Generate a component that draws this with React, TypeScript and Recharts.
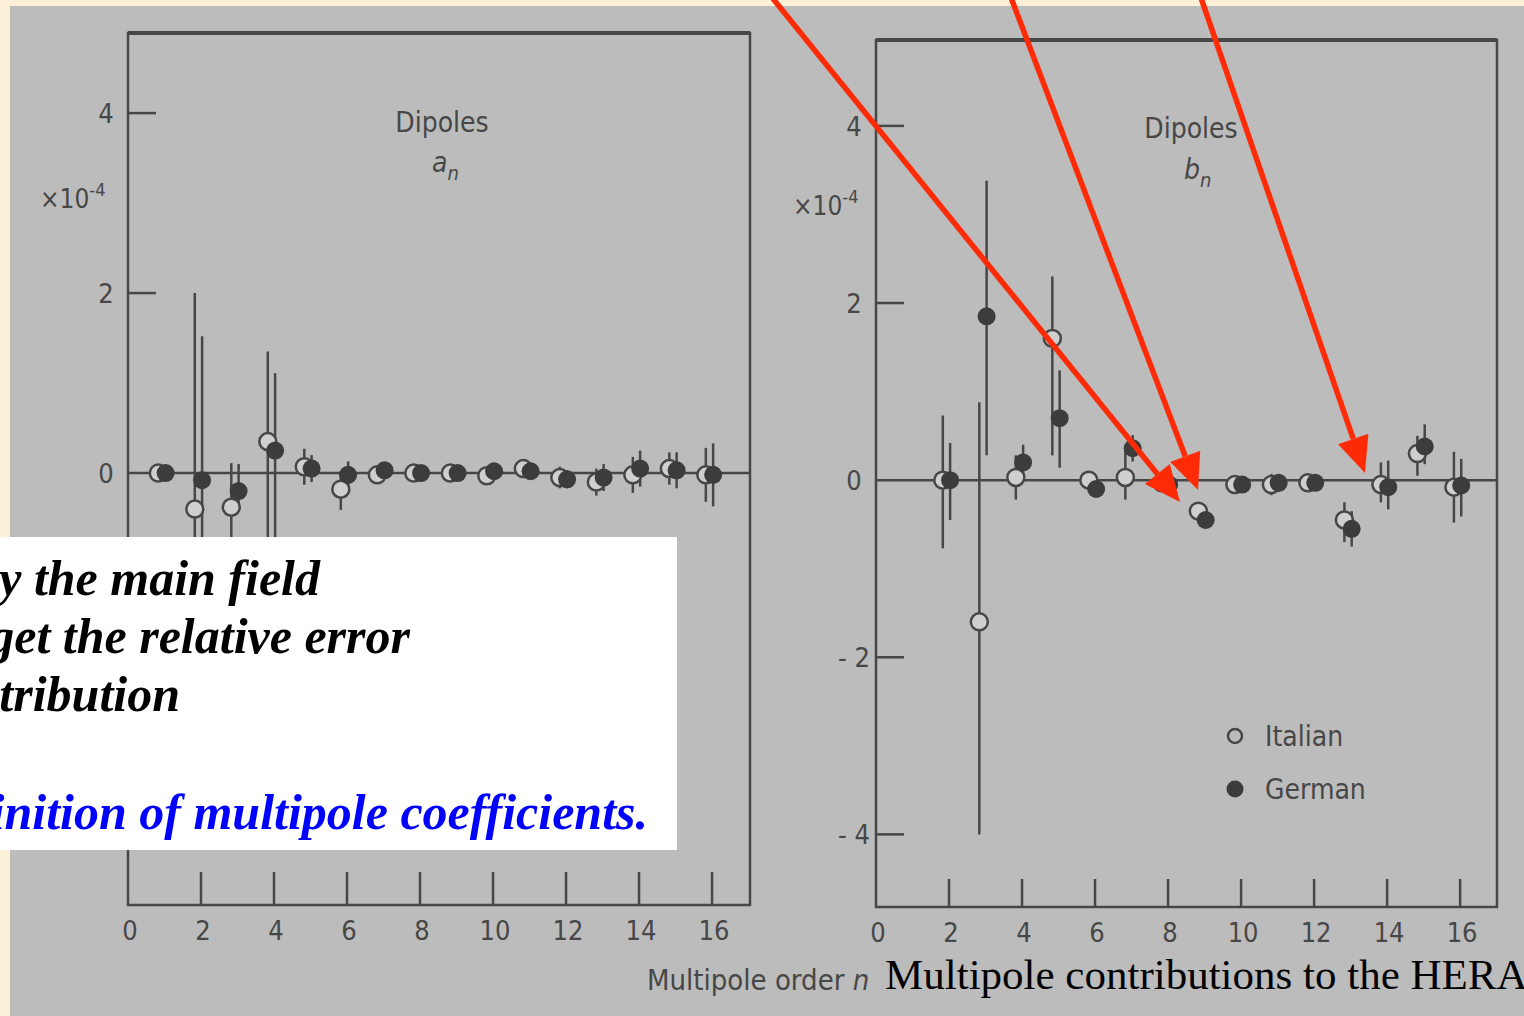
import {
  ScatterChart,
  Scatter,
  XAxis,
  YAxis,
  ErrorBar,
  ReferenceLine,
  ReferenceArea,
  Legend,
} from "recharts";

// multipole orders
const aOrders = [1, 2, 3, 4, 5, 6, 7, 8, 9, 10, 11, 12, 13, 14, 15, 16];
const bOrders = [2, 3, 4, 5, 6, 7, 8, 9, 10, 11, 12, 13, 14, 15, 16];

// skew dipole coefficients a_n (x 10^-4)
const aItalian = [0, -0.4, -0.38, 0.35, 0.07, -0.18, -0.02, 0, 0, -0.03, 0.05, -0.05, -0.1, -0.02, 0.05, -0.02];
const aItalianErr = [
  [0, 0], [1.0, 2.4], [0.8, 0.49], [1.85, 1.0], [0.2, 0.2], [0.23, 0.2], [0.1, 0.1], [0.1, 0.1],
  [0.07, 0.07], [0.1, 0.1], [0.08, 0.08], [0.12, 0.12], [0.15, 0.15], [0.2, 0.2], [0.18, 0.18], [0.3, 0.3],
];
const aGerman = [0, -0.08, -0.2, 0.25, 0.05, -0.02, 0.03, 0, 0, 0.02, 0.02, -0.07, -0.05, 0.05, 0.03, -0.02];
const aGermanErr = [
  [0, 0], [1.0, 1.6], [0.2, 0.3], [1.8, 0.86], [0.15, 0.15], [0.15, 0.15], [0.08, 0.08], [0.08, 0.08],
  [0.05, 0.05], [0.08, 0.08], [0.05, 0.05], [0.1, 0.1], [0.15, 0.15], [0.2, 0.2], [0.2, 0.2], [0.35, 0.35],
];

// normal dipole coefficients b_n (x 10^-4)
const bItalian = [0, -1.6, 0.03, 1.6, 0, 0.03, -0.03, -0.35, -0.05, -0.05, -0.03, -0.45, -0.05, 0.3, -0.08];
const bItalianErr = [
  [0.77, 0.73], [2.4, 2.48], [0.25, 0.25], [1.32, 0.7], [0.08, 0.08], [0.25, 0.3], [0.1, 0.1], [0.08, 0.08],
  [0.1, 0.1], [0.12, 0.12], [0.05, 0.05], [0.25, 0.2], [0.2, 0.25], [0.25, 0.2], [0.4, 0.4],
];
const bGerman = [0, 1.85, 0.2, 0.7, -0.1, 0.36, -0.05, -0.45, -0.05, -0.03, -0.03, -0.55, -0.08, 0.38, -0.06];
const bGermanErr = [
  [0.45, 0.42], [1.57, 1.53], [0.15, 0.2], [0.56, 0.54], [0.05, 0.05], [0.15, 0.15], [0.05, 0.05], [0.05, 0.05],
  [0.08, 0.08], [0.1, 0.1], [0.05, 0.05], [0.2, 0.2], [0.25, 0.3], [0.2, 0.25], [0.35, 0.3],
];

const xTicks = [0, 2, 4, 6, 8, 10, 12, 14, 16];
// the left panel's lower ticks are hidden under the slide's text box
const aYTicks = [0, 2, 4];
const bYTicks = [-4, -2, 0, 2, 4];
const seriesNames = ["Italian", "German"];

const INK = "#474747";
const PAPER = "#bcbcbc";
const FONT = "'DejaVu Sans Condensed', 'Liberation Sans Narrow', sans-serif";
const SERIF = "'Liberation Serif', 'Times New Roman', serif";
const RED = "#ff2a06";

const build = (orders: number[], vals: number[], errs: number[][], shift: number) =>
  orders.map((n, i) => ({ x: n + shift, y: vals[i], err: errs[i] }));

const OpenDot = (p: any) => (
  <circle cx={p.cx} cy={p.cy} r={8.5} fill="#cfcfcf" stroke={INK} strokeWidth={2.5} />
);
const FullDot = (p: any) => <circle cx={p.cx} cy={p.cy} r={9} fill="#3c3c3c" />;

const XTick = (len: number, dy: number) => (p: any) => (
  <g>
    {p.payload.value > 0 && (
      <line x1={p.x} y1={p.y} x2={p.x} y2={p.y - len} stroke={INK} strokeWidth={2.5} />
    )}
    <text x={p.x + 2} y={p.y + dy} textAnchor="middle" fill={INK} fontSize={27} fontFamily={FONT}>
      {p.payload.value}
    </text>
  </g>
);

const YTick = (p: any) => (
  <g>
    {p.payload.value !== 0 && (
      <line x1={p.x} y1={p.y} x2={p.x + 28} y2={p.y} stroke={INK} strokeWidth={2.5} />
    )}
    <text x={p.x - 22} y={p.y + 10} textAnchor="middle" fill={INK} fontSize={27} fontFamily={FONT}>
      {p.payload.value < 0 ? "- " + Math.abs(p.payload.value) : p.payload.value}
    </text>
  </g>
);

const LegendBox = (props: any) => {
  const items = [...(props.payload || [])].sort(
    (a: any, b: any) => seriesNames.indexOf(a.value) - seriesNames.indexOf(b.value)
  );
  return (
    <svg width={200} height={100}>
      {items.map((e: any, i: number) => (
        <g key={e.value} transform={`translate(0, ${i * 53})`}>
          {e.value === "Italian" ? (
            <circle cx={16} cy={24} r={7} fill="none" stroke={INK} strokeWidth={2.5} />
          ) : (
            <circle cx={16} cy={24} r={8.5} fill="#3c3c3c" />
          )}
          <text x={46} y={34} fill={INK} fontSize={28} fontFamily={FONT}>
            {e.value}
          </text>
        </g>
      ))}
    </svg>
  );
};

type PanelProps = {
  left: number;
  width: number;
  margin: { top: number; right: number; bottom: number; left: number };
  xMax: number;
  yMin: number;
  yMax: number;
  yTicks: number[];
  italian: any[];
  german: any[];
  tickLen: number;
  tickDy: number;
  legend?: boolean;
};

const Panel = (p: PanelProps) => (
  <div style={{ position: "absolute", left: p.left, top: 0 }}>
    <ScatterChart width={p.width} height={1016} margin={p.margin}>
      <XAxis
        type="number"
        dataKey="x"
        domain={[0, p.xMax]}
        ticks={xTicks}
        interval={0}
        allowDataOverflow
        height={50}
        tickSize={0}
        tickMargin={0}
        axisLine={false}
        tick={XTick(p.tickLen, p.tickDy)}
      />
      <YAxis
        type="number"
        dataKey="y"
        domain={[p.yMin, p.yMax]}
        ticks={p.yTicks}
        interval={0}
        allowDataOverflow
        width={50}
        tickSize={0}
        tickMargin={0}
        axisLine={false}
        tick={YTick}
      />
      <ReferenceArea
        x1={0}
        x2={p.xMax}
        y1={p.yMin}
        y2={p.yMax}
        fill="none"
        stroke={INK}
        strokeWidth={2.5}
      />
      <ReferenceLine y={p.yMax} stroke={INK} strokeWidth={4} />
      <ReferenceLine y={0} stroke={INK} strokeWidth={2.5} />
      <Scatter name="Italian" data={p.italian} shape={OpenDot} isAnimationActive={false}>
        <ErrorBar dataKey="err" direction="y" width={0} stroke={INK} strokeWidth={2.5} isAnimationActive={false} />
      </Scatter>
      <Scatter name="German" data={p.german} shape={FullDot} isAnimationActive={false}>
        <ErrorBar dataKey="err" direction="y" width={0} stroke={INK} strokeWidth={2.5} isAnimationActive={false} />
      </Scatter>
      {p.legend && (
        <Legend
          layout="horizontal"
          verticalAlign="middle"
          content={LegendBox}
          wrapperStyle={{ left: 1219 - p.left, top: 712, width: 200 }}
        />
      )}
    </ScatterChart>
  </div>
);

const Arrow = ({ x1, y1, x2, y2 }: { x1: number; y1: number; x2: number; y2: number }) => {
  const a = Math.atan2(y2 - y1, x2 - x1);
  const L = 36;
  const W = 16;
  const bx = x2 - L * Math.cos(a);
  const by = y2 - L * Math.sin(a);
  const px = -Math.sin(a) * W;
  const py = Math.cos(a) * W;
  return (
    <g>
      <line x1={x1} y1={y1} x2={bx} y2={by} stroke={RED} strokeWidth={5.5} />
      <polygon points={`${x2},${y2} ${bx + px},${by + py} ${bx - px},${by - py}`} fill={RED} />
    </g>
  );
};

export default function App() {
  return (
    <div
      style={{
        position: "absolute",
        left: 0,
        top: 0,
        width: 1524,
        height: 1016,
        overflow: "hidden",
        background: "#fcf0d8",
      }}
    >
      <div style={{ position: "absolute", left: 10, top: 6, right: 0, bottom: 0, background: PAPER }} />
      <Panel
        left={0}
        width={800}
        margin={{ top: 33, right: 50, bottom: 61, left: 78 }}
        xMax={17.04}
        yMin={-4.8}
        yMax={4.89}
        yTicks={aYTicks}
        italian={build(aOrders, aItalian, aItalianErr, -0.17)}
        german={build(aOrders, aGerman, aGermanErr, 0.03)}
        tickLen={33}
        tickDy={35}
      />
      <Panel
        left={760}
        width={764}
        margin={{ top: 40, right: 27, bottom: 59, left: 66 }}
        xMax={17.01}
        yMin={-4.82}
        yMax={4.97}
        yTicks={bYTicks}
        italian={build(bOrders, bItalian, bItalianErr, -0.17)}
        german={build(bOrders, bGerman, bGermanErr, 0.03)}
        tickLen={28}
        tickDy={35}
        legend
      />
      <svg
        width={1524}
        height={1016}
        style={{ position: "absolute", left: 0, top: 0, pointerEvents: "none" }}
      >
        <g fill={INK} fontFamily={FONT} fontSize={28}>
          <text x={442} y={132} textAnchor="middle">Dipoles</text>
          <text x={432} y={172} fontStyle="italic">
            a<tspan fontSize={20} dy={8}>n</tspan>
          </text>
          <text x={1191} y={138} textAnchor="middle">Dipoles</text>
          <text x={1184} y={179} fontStyle="italic">
            b<tspan fontSize={20} dy={8}>n</tspan>
          </text>
          <text x={40} y={208} fontSize={26}>
            ×10<tspan fontSize={18} dy={-12}>-4</tspan>
          </text>
          <text x={793} y={215} fontSize={26}>
            ×10<tspan fontSize={18} dy={-12}>-4</tspan>
          </text>
          <text x={647} y={990} fontSize={29}>
            Multipole order <tspan fontStyle="italic">n</tspan>
          </text>
        </g>

        <rect x={0} y={537} width={677} height={313} fill="#ffffff" />
        <g fontFamily={SERIF} fontStyle="italic" fontWeight="bold" fontSize={50}>
          <text x={320} y={595} textAnchor="end" fill="#000">y the main field</text>
          <text x={410} y={653} textAnchor="end" fill="#000">get the relative error</text>
          <text x={180} y={711} textAnchor="end" fill="#000">tribution</text>
          <text x={648} y={829} textAnchor="end" fill="#0000ff">inition of multipole coefficients.</text>
        </g>

        <Arrow x1={770} y1={-5} x2={1180} y2={502} />
        <Arrow x1={1010} y1={-5} x2={1198} y2={490} />
        <Arrow x1={1200} y1={-5} x2={1365} y2={473} />

        <text x={885} y={989} fontFamily={SERIF} fontSize={43} fill="#000">
          Multipole contributions to the HERA
        </text>
      </svg>
    </div>
  );
}
